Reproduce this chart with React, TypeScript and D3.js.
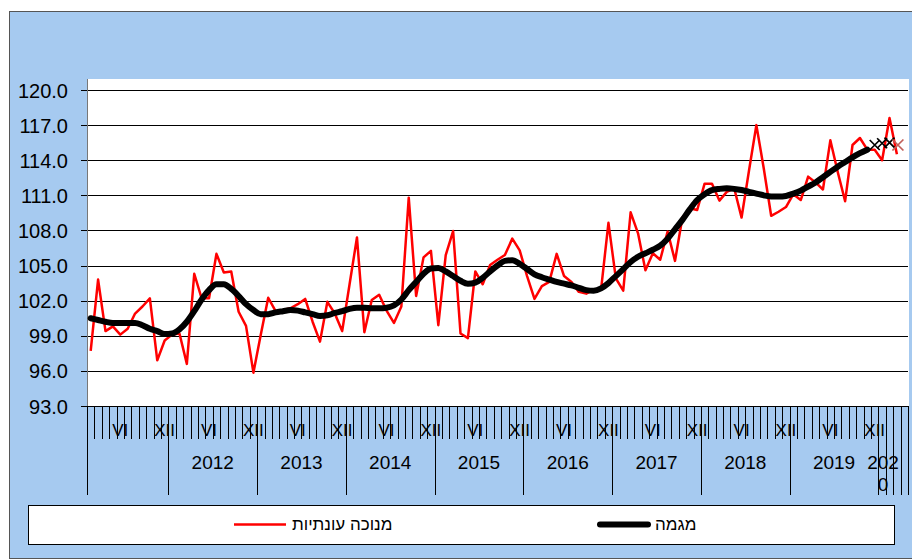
import React from 'react';
import * as d3 from 'd3';

// monthly categories: Feb 2011 .. Apr 2020
const START_YEAR = 2011;
const START_MONTH = 2;
const N_CATS = 111;
const YEARS = [2011, 2012, 2013, 2014, 2015, 2016, 2017, 2018, 2019, 2020];
const YEAR_LABELS = ['', '2012', '2013', '2014', '2015', '2016', '2017', '2018', '2019', '2020'];
const MONTH_LABELS = { 6: 'VI', 12: 'XII' };
const Y_TICKS = [93, 96, 99, 102, 105, 108, 111, 114, 117, 120];

// seasonally adjusted (red)
const adjusted = [
  97.7, 103.8, 99.4, 99.8, 99.1, 99.6, 100.9, 101.5, 102.2, 96.9, 98.6,
  99.1, 99.2, 96.6, 104.3, 102.2, 102.2, 106.0, 104.4, 104.5, 101.05, 99.85, 95.85,
  99.1, 102.25, 101.1, 101.2, 101.35, 101.7, 102.15, 100.2, 98.5, 101.9, 100.9, 99.4,
  103.4, 107.4, 99.3, 102.05, 102.5, 101.15, 100.1, 101.5, 110.8, 102.4, 105.7, 106.25,
  99.9, 105.9, 107.95, 99.2, 98.8, 104.5, 103.4, 105.05, 105.5, 105.9, 107.3, 106.3,
  104.1, 102.15, 103.25, 103.6, 106.0, 104.1, 103.6, 102.75, 102.6, 102.95, 102.95, 108.65,
  103.9, 102.85, 109.55, 107.75, 104.6, 106.05, 105.5, 107.9, 105.4, 109.1, 109.9, 109.75,
  112.0, 112.0, 110.55, 111.3, 111.6, 109.1, 113.1, 117.0, 113.3, 109.25, 109.6, 110.0,
  111.1, 110.6, 112.6, 112.1, 111.5, 115.7, 113.0, 110.5, 115.3, 115.9, 114.9, 114.9,
  114.0, 117.6, 114.5,
];

// trend (black)
const trend = [
  100.5, 100.35, 100.2, 100.1, 100.1, 100.1, 100.1, 99.9, 99.6, 99.4, 99.15,
  99.2, 99.55, 100.2, 101.1, 102.1, 102.9, 103.4, 103.4, 103.0, 102.4, 101.7, 101.2,
  100.85, 100.85, 101.0, 101.1, 101.2, 101.15, 101.0, 100.85, 100.7, 100.75, 100.95, 101.1,
  101.3, 101.4, 101.4, 101.35, 101.35, 101.4, 101.6, 102.1, 102.9, 103.6, 104.3, 104.75,
  104.8, 104.5, 104.1, 103.7, 103.45, 103.55, 103.95, 104.5, 105.0, 105.4, 105.45, 105.15,
  104.7, 104.25, 104.0, 103.8, 103.6, 103.45, 103.3, 103.1, 102.9, 102.85, 103.05, 103.5,
  104.1, 104.7, 105.3, 105.75, 106.05, 106.35, 106.7, 107.3, 108.1, 108.9, 109.8, 110.6,
  111.1, 111.45, 111.55, 111.6, 111.55, 111.45, 111.3, 111.15, 111.0, 110.9, 110.9, 110.95,
  111.15, 111.4, 111.75, 112.1, 112.55, 113.0, 113.45, 113.85, 114.25, 114.6, 114.9,
];

// trend estimates at the end (X markers)
const trendEstimates = [115.3, 115.45, 115.5];
const trendEstimatesStart = 106;
const trendLast = [115.3];
const trendLastIndex = 109;

const FONT = 'Liberation Sans, Arial, sans-serif';

export default function App() {
  const left = 87, right = 908, top = 90, bottom = 406;
  const x = d3.scaleBand<number>().domain(d3.range(N_CATS)).range([left, right]);
  const y = d3.scaleLinear().domain([93, 120]).range([bottom, top]);
  const cx = (i: number) => (x(i) as number) + x.bandwidth() / 2;

  const cats = d3.range(N_CATS).map((i) => {
    const m0 = START_MONTH - 1 + i;
    return { year: START_YEAR + Math.floor(m0 / 12), month: (m0 % 12) + 1 };
  });

  const redLine = d3.line<number>().x((_, i) => cx(i)).y((d) => y(d));
  const trendLine = d3.line<number>().x((_, i) => cx(i)).y((d) => y(d)).curve(d3.curveMonotoneX);

  const boundaries = d3.range(N_CATS + 1).map((i) => (i < N_CATS ? (x(i) as number) : right));

  const yearSegs = YEARS.map((yr, k) => {
    const idx = cats.map((c, i) => (c.year === yr ? i : -1)).filter((i) => i >= 0);
    const x0 = x(idx[0]) as number;
    const x1 = idx[idx.length - 1] + 1 < N_CATS ? (x(idx[idx.length - 1] + 1) as number) : right;
    return { yr, label: YEAR_LABELS[k], x0, x1 };
  });

  const cross = (px: number, py: number, s: number) =>
    `M${px - s},${py - s}L${px + s},${py + s}M${px - s},${py + s}L${px + s},${py - s}`;

  return (
    <div style={{ position: 'absolute', left: 0, top: 0 }}>
      <svg width={912} height={560} style={{ display: 'block', fontFamily: FONT }}>
        <rect x={0} y={0} width={912} height={560} fill="#fff" />
        <rect x={9.5} y={11.5} width={910} height={547} fill="#A6CAF0" stroke="#555" strokeWidth={1} />
        <rect x={left} y={79} width={right - left + 1} height={bottom - 79} fill="#fff" />

        {Y_TICKS.map((t) => (
          <g key={t}>
            <line x1={81} x2={right} y1={Math.round(y(t)) + 0.5} y2={Math.round(y(t)) + 0.5} stroke="#000" strokeWidth={1} />
            <text x={68} y={y(t) + 7.5} textAnchor="end" fontSize={20} fill="#000">
              {t.toFixed(1)}
            </text>
          </g>
        ))}
        <line x1={left + 0.5} x2={left + 0.5} y1={79} y2={bottom} stroke="#777" strokeWidth={1} />

        {/* month labels */}
        {cats.map((c, i) =>
          MONTH_LABELS[c.month] ? (
            <text key={'m' + i} x={cx(i)} y={436} textAnchor="middle" fontSize={17} fill="#000">
              {MONTH_LABELS[c.month]}
            </text>
          ) : null
        )}

        {/* category ticks */}
        {boundaries.map((bx, i) => {
          const c = i < N_CATS ? cats[i] : null;
          const long = i === 0 || i === N_CATS || (c && c.month === 1) || (c && c.year === 2020);
          return (
            <line key={'t' + i} x1={Math.round(bx) + 0.5} x2={Math.round(bx) + 0.5} y1={bottom} y2={long ? 495 : 439} stroke="#000" strokeWidth={1} />
          );
        })}

        {/* year labels */}
        {yearSegs.map((s) =>
          s.label === '2020' ? (
            <g key={s.yr}>
              <text x={883} y={469} textAnchor="middle" fontSize={19} fill="#000">202</text>
              <text x={883} y={491} textAnchor="middle" fontSize={19} fill="#000">0</text>
            </g>
          ) : s.label ? (
            <text key={s.yr} x={(s.x0 + s.x1) / 2} y={469} textAnchor="middle" fontSize={19} fill="#000">
              {s.label}
            </text>
          ) : null
        )}

        <line x1={left} x2={right} y1={bottom + 0.5} y2={bottom + 0.5} stroke="#000" strokeWidth={1} />

        <path d={redLine(adjusted) || ''} fill="none" stroke="#FF0000" strokeWidth={2.5} strokeLinejoin="round" />
        <path d={trendLine(trend) || ''} fill="none" stroke="#000" strokeWidth={6} strokeLinecap="round" strokeLinejoin="round" />
        {trendEstimates.map((v, k) => (
          <path key={'x' + k} d={cross(cx(trendEstimatesStart + k), y(v), 5)} stroke="#000" strokeWidth={1.7} fill="none" />
        ))}
        {trendLast.map((v, k) => (
          <path key={'xl' + k} d={cross(cx(trendLastIndex + k) + 1, y(v), 5.5)} stroke="#C0605A" strokeWidth={1.7} fill="none" />
        ))}

        {/* legend */}
        <rect x={28.5} y={505.5} width={866} height={39} fill="#fff" stroke="#000" strokeWidth={1} />
        <line x1={234} x2={286} y1={524.5} y2={524.5} stroke="#FF0000" strokeWidth={2.5} />
        <text x={292} y={530} fontSize={17} fill="#000">מנוכה עונתיות</text>
        <line x1={600} x2={648} y1={524.5} y2={524.5} stroke="#000" strokeWidth={6} strokeLinecap="round" />
        <text x={655} y={530} fontSize={17} fill="#000">מגמה</text>
      </svg>
    </div>
  );
}
